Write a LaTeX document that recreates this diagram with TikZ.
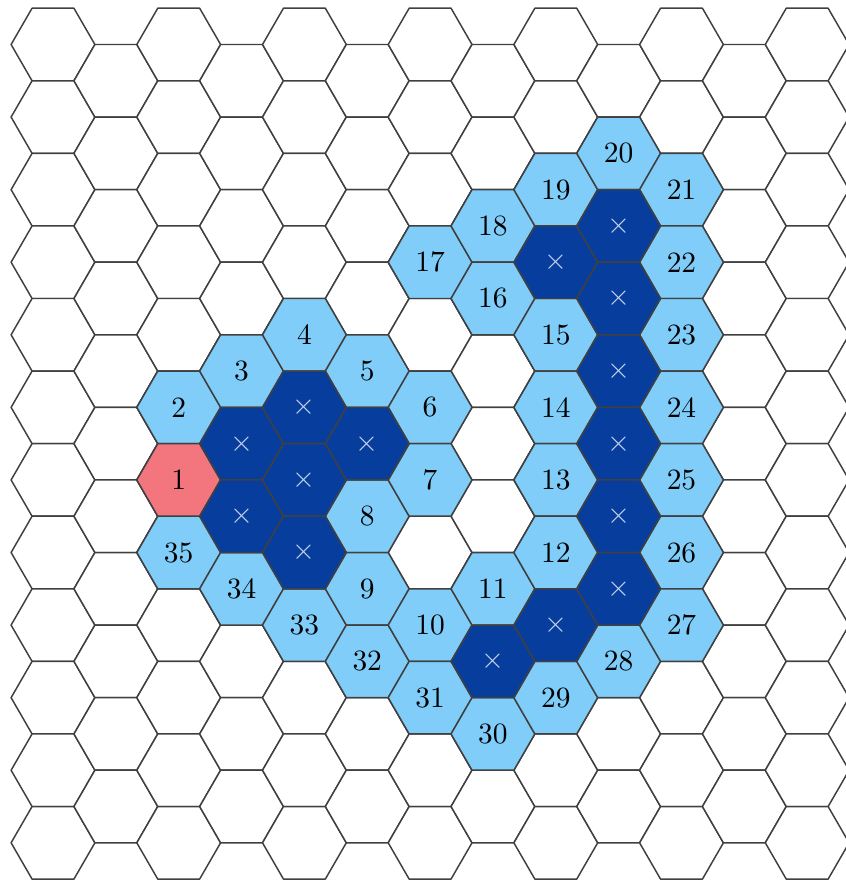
\documentclass[tikz,border=0pt]{standalone}
\definecolor{lb}{RGB}{128,205,250}
\definecolor{db}{RGB}{7,62,158}
\definecolor{rd}{RGB}{243,118,126}
\definecolor{xc}{RGB}{200,212,238}
\tikzset{
  hexline/.style={draw=black!75, line width=0.5pt, line join=round},
  lbl/.style={inner sep=0pt, text=black},
  xlbl/.style={inner sep=0pt, text=xc},
}
\newcommand\hexpath[2]{(#1,#2) +(0:1) -- +(60:1) -- +(120:1) -- +(180:1) -- +(240:1) -- +(300:1) -- cycle}
\newcommand\labcell[4]{%
  \pgfmathtruncatemacro\hodd{mod(#1,2)}%
  \pgfmathsetmacro\hcx{1.5*#1}%
  \pgfmathsetmacro\hcy{-(1.7320508*#2+0.8660254*\hodd)}%
  \draw[hexline,fill=#3] \hexpath{\hcx}{\hcy};
  \node[lbl] (n#4) at (\hcx,\hcy) {#4};
}
\begin{document}
\begin{tikzpicture}[x=0.5cm,y=0.5cm]
\useasboundingbox (-1.265,1.062) rectangle (18.926,-20.036);
\clip (-1.265,1.062) rectangle (18.926,-20.036);
% background grid
\foreach \c in {0,...,12}{
  \pgfmathtruncatemacro\odd{mod(\c,2)}
  \pgfmathtruncatemacro\nr{\odd==1 ? 10 : 11}
  \foreach \r in {0,...,\nr}{
    \pgfmathsetmacro\gx{1.5*\c}
    \pgfmathsetmacro\gy{-(1.7320508*\r+0.8660254*\odd)}
    \draw[hexline,fill=white] \hexpath{\gx}{\gy};
  }
}
% numbered light-blue cells
\foreach \c/\r/\t in {2/5/2, 2/7/35, 3/4/3, 3/7/34, 4/4/4, 4/8/33, 5/4/5, 5/6/8,
  5/7/9, 5/8/32, 6/3/17, 6/5/6, 6/6/7, 6/8/10, 6/9/31, 7/2/18, 7/3/16, 7/7/11,
  7/9/30, 8/2/19, 8/4/15, 8/5/14, 8/6/13, 8/7/12, 8/9/29, 9/1/20, 9/8/28,
  10/2/21, 10/3/22, 10/4/23, 10/5/24, 10/6/25, 10/7/26, 10/8/27}{
  \labcell{\c}{\r}{lb}{\t}
}
% start cell
\labcell{2}{6}{rd}{1}
% blocked dark cells
\foreach \c/\r [count=\k] in {3/5, 3/6, 4/5, 4/6, 4/7, 5/5, 7/8, 8/3, 8/8,
  9/2, 9/3, 9/4, 9/5, 9/6, 9/7}{
  \pgfmathtruncatemacro\hodd{mod(\c,2)}
  \pgfmathsetmacro\hcx{1.5*\c}
  \pgfmathsetmacro\hcy{-(1.7320508*\r+0.8660254*\hodd)}
  \draw[hexline,fill=db] \hexpath{\hcx}{\hcy};
  \node[xlbl] (x\k) at (\hcx,\hcy) {$\times$};
}
\end{tikzpicture}
\end{document}
